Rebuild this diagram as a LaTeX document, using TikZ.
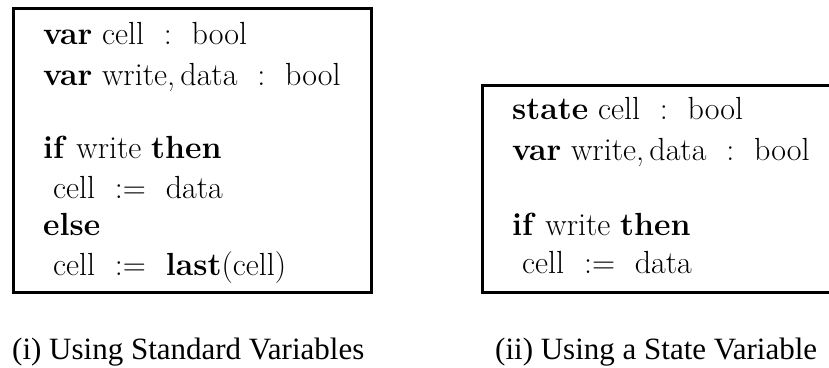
\documentclass[tikz,border=0pt]{standalone}
\usepackage{fontspec}
\setmainfont{Latin Modern Roman}
\newfontfamily\capfont{Liberation Serif}
% spacing around the colon and the assignment sign
\newcommand{\colsep}{\hspace{0.62em}}
\newcommand{\captext}[1]{{\capfont\fontsize{31pt}{36pt}\selectfont #1}}
\begin{document}
\begin{tikzpicture}[x=1pt,y=-1pt,
  code/.style={anchor=base west, inner sep=0pt, font=\fontsize{32pt}{38pt}\selectfont},
  caption/.style={anchor=base west, inner sep=0pt},
  panel/.style={draw, line width=3pt}]
\useasboundingbox (0,0) rectangle (829,367);
\clip (0,0) rectangle (829,367);

% panel (i): standard variables
\draw[panel] (13.5,8.5) rectangle (371,292.5);
\node[code] (a1) at (43,44)  {\textbf{var} cell\colsep:\colsep bool};
\node[code] (a2) at (43,85)  {\textbf{var} write,\,data\colsep:\colsep bool};
\node[code] (a3) at (43,158) {\textbf{if} write \textbf{then}};
\node[code] (a4) at (53,198) {cell\colsep:=\colsep data};
\node[code] (a5) at (43,235) {\textbf{else}};
\node[code] (a6) at (53,275) {cell\colsep:=\colsep\textbf{last}(cell)};

% panel (ii): state variable
\draw[panel] (482,85) rectangle (860,292.5);
\node[code] (b1) at (512,119) {\textbf{state} cell\colsep:\colsep bool};
\node[code] (b2) at (512,160) {\textbf{var} write,\,data\colsep:\colsep bool};
\node[code] (b3) at (512,235) {\textbf{if} write \textbf{then}};
\node[code] (b4) at (522,273) {cell\colsep:=\colsep data};

% captions
\node[caption] (c1) at (12,359)  {\captext{(i) Using Standard Variables}};
\node[caption] (c2) at (495,359) {\captext{(ii) Using a State Variable}};
\end{tikzpicture}
\end{document}
